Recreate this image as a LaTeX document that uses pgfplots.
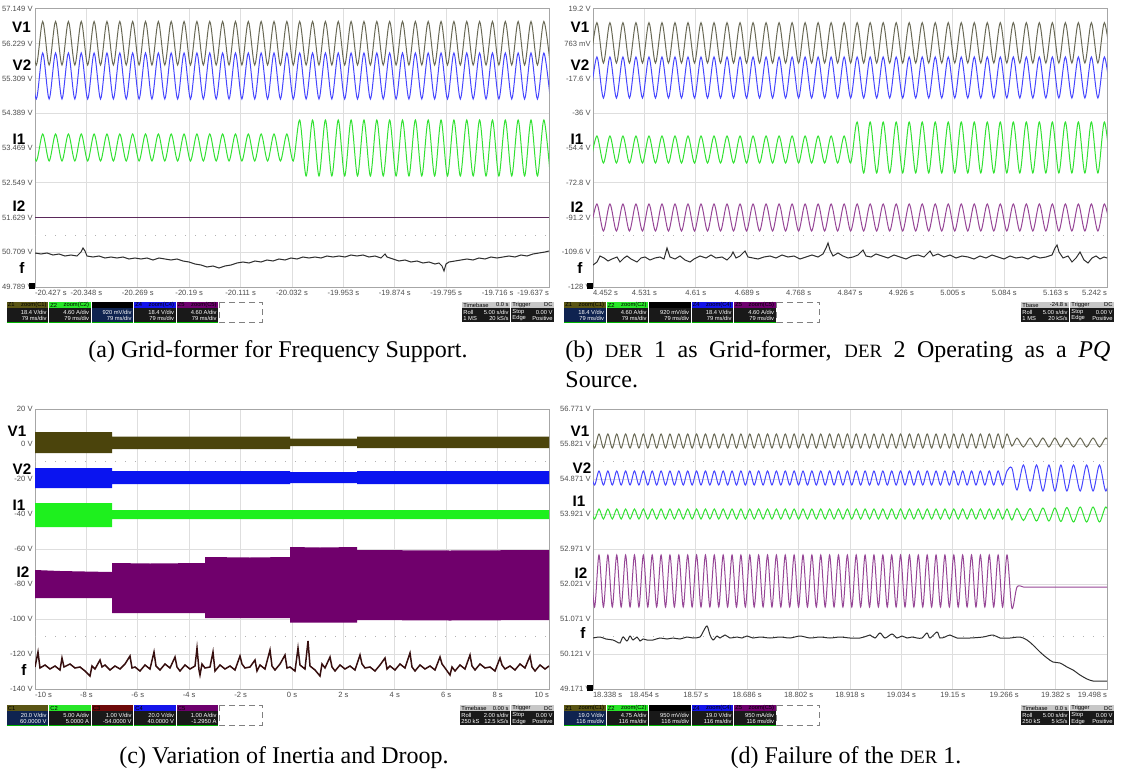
\documentclass[border=0pt]{standalone}
\usepackage{pgfplots}
\pgfplotsset{compat=1.18}
\usepackage{pgfplotstable}
\usepackage{fontspec}
\setmainfont{Liberation Serif}
\newfontfamily\arial{Liberation Sans}
\definecolor{cV1}{RGB}{105,105,85}
\definecolor{cV2}{RGB}{70,70,255}
\definecolor{cI1}{RGB}{50,225,50}
\definecolor{cI2}{RGB}{150,70,150}
\definecolor{cI2a}{RGB}{90,40,90}
\definecolor{cF}{RGB}{45,45,45}
\definecolor{bV1}{RGB}{75,68,12}
\definecolor{bV2}{RGB}{10,20,240}
\definecolor{bI1}{RGB}{30,240,30}
\definecolor{bI2}{RGB}{112,0,108}
\definecolor{bF}{RGB}{55,15,15}
\definecolor{hZ1}{RGB}{90,85,20}
\definecolor{hZ2}{RGB}{40,230,40}
\definecolor{hZ3}{RGB}{110,10,10}
\definecolor{hZ4}{RGB}{20,20,235}
\definecolor{hZ5}{RGB}{110,0,110}
\definecolor{bodyK}{RGB}{25,25,25}
\definecolor{bodyB}{RGB}{15,35,80}
\newcommand{\tickfont}{\arial\fontsize{3.8}{4}\selectfont}
\newcommand{\smc}[1]{{\fontsize{9.4}{10}\selectfont #1}}

\pgfplotsset{
  gridax/.style={scale only axis, width=257pt, y dir=reverse,
    axis line style={draw=black!35, line width=0.5pt},
    grid=major, major grid style={draw=black!13, line width=0.5pt},
    major tick length=0pt,
    tick label style={font=\tickfont, text=black!70},
    yticklabel style={inner sep=1pt},
    xticklabel style={inner sep=1.6pt},
    clip=true},
  overax/.style={scale only axis, width=257pt, y dir=reverse, hide axis, clip=true},
  tr/.style={line width=0.5pt, smooth},
}

\pgfplotstableread{
x v1 v2 i1
-1 21.5 53 134
0 65 99 161
1 21.5 53 134
2 65 99 161
3 21.5 53 134
4 65 99 161
5 21.5 53 134
6 65 99 161
7 21.5 53 134
8 65 99 161
9 21.5 53 134
10 65 99 161
11 21.5 53 134
12 65 99 161
13 21.5 53 134
14 65 99 161
15 21.5 53 134
16 65 99 161
17 21.5 53 134
18 65 99 161
19 21.5 53 134
20 65 99 161
21 21.5 53 134
22 65 99 161
23 21.5 53 134
24 65 99 161
25 21.5 53 134
26 65 99 161
27 21.5 53 134
28 65 99 161
29 21.5 53 134
30 65 99 161
31 21.5 53 134
32 65 99 161
33 21.5 53 134
34 65 99 161
35 21.5 53 134
36 65 99 161
37 21.5 53 134
38 65 99 161
39 21.5 53 134
40 65 99 161
41 21.5 53 120
42 65 99 176
43 21.5 53 120
44 65 99 176
45 21.5 53 120
46 65 99 176
47 21.5 53 120
48 65 99 176
49 21.5 53 120
50 65 99 176
51 21.5 53 120
52 65 99 176
53 21.5 53 120
54 65 99 176
55 21.5 53 120
56 65 99 176
57 21.5 53 120
58 65 99 176
59 21.5 53 120
60 65 99 176
61 21.5 53 120
62 65 99 176
63 21.5 53 120
64 65 99 176
65 21.5 53 120
66 65 99 176
67 21.5 53 120
68 65 99 176
69 21.5 53 120
70 65 99 176
71 21.5 53 120
72 65 99 176
73 21.5 53 120
74 65 99 176
75 21.5 53 120
76 65 99 176
77 21.5 53 120
78 65 99 176
79 21.5 53 120
80 65 99 176
}\tabA

\pgfplotstableread{
x v1 v2 i1 i2
0 63 98 163 231
1 22.7 57 136 204
2 63 98 163 231
3 22.7 57 136 204
4 63 98 163 231
5 22.7 57 136 204
6 63 98 163 231
7 22.7 57 136 204
8 63 98 163 231
9 22.7 57 136 204
10 63 98 163 231
11 22.7 57 136 204
12 63 98 163 231
13 22.7 57 136 204
14 63 98 163 231
15 22.7 57 136 204
16 63 98 163 231
17 22.7 57 136 204
18 63 98 163 231
19 22.7 57 136 204
20 63 98 163 231
21 22.7 57 136 204
22 63 98 163 231
23 22.7 57 136 204
24 63 98 163 231
25 22.7 57 136 204
26 63 98 163 231
27 22.7 57 136 204
28 63 98 163 231
29 22.7 57 136 204
30 63 98 163 231
31 22.7 57 136 204
32 63 98 163 231
33 22.7 57 136 204
34 63 98 163 231
35 22.7 57 136 204
36 63 98 163 231
37 22.7 57 136 204
38 63 98 163 231
39 22.7 57 136 204
40 63 98 163 231
41 22.7 57 122 204
42 63 98 173 231
43 22.7 57 122 204
44 63 98 173 231
45 22.7 57 122 204
46 63 98 173 231
47 22.7 57 122 204
48 63 98 173 231
49 22.7 57 122 204
50 63 98 173 231
51 22.7 57 122 204
52 63 98 173 231
53 22.7 57 122 204
54 63 98 173 231
55 22.7 57 122 204
56 63 98 173 231
57 22.7 57 122 204
58 63 98 173 231
59 22.7 57 122 204
60 63 98 173 231
61 22.7 57 122 204
62 63 98 173 231
63 22.7 57 122 204
64 63 98 173 231
65 22.7 57 122 204
66 63 98 173 231
67 22.7 57 122 204
68 63 98 173 231
69 22.7 57 122 204
70 63 98 173 231
71 22.7 57 122 204
72 63 98 173 231
73 22.7 57 122 204
74 63 98 173 231
75 22.7 57 122 204
76 63 98 173 231
77 22.7 57 122 204
78 63 98 173 231
79 22.7 57 122 204
80 63 98 173 231
}\tabB

\pgfplotstableread{
x v1 v2 i1 i2
-1 434 471 509 555
0 448 485 519 607
1 434 471 509 555
2 448 485 519 607
3 434 471 509 555
4 448 485 519 607
5 434 471 509 555
6 448 485 519 607
7 434 471 509 555
8 448 485 519 607
9 434 471 509 555
10 448 485 519 607
11 434 471 509 555
12 448 485 519 607
13 434 471 509 555
14 448 485 519 607
15 434 471 509 555
16 448 485 519 607
17 434 471 509 555
18 448 485 519 607
19 434 471 509 555
20 448 485 519 607
21 434 471 509 555
22 448 485 519 607
23 434 471 509 555
24 448 485 519 607
25 434 471 509 555
26 448 485 519 607
27 434 471 509 555
28 448 485 519 607
29 434 471 509 555
30 448 485 519 607
31 434 471 509 555
32 448 485 519 607
33 434 471 509 555
34 448 485 519 607
35 434 471 509 555
36 448 485 519 607
37 434 471 509 555
38 448 485 519 607
39 434 471 509 555
40 448 485 519 607
41 434 471 509 555
42 448 485 519 607
43 434 471 509 555
44 448 485 519 607
45 434 471 509 555
46 448 485 519 607
47 434 471 509 555
48 448 485 519 607
49 434 471 509 555
50 448 485 519 607
51 434 471 509 555
52 448 485 519 607
53 434 471 509 555
54 448 485 519 607
55 434 471 509 555
56 448 485 519 607
57 434 471 509 555
58 448 485 519 607
59 434 471 509 555
60 448 485 519 607
61 434 471 509 555
62 448 485 519 607
63 434 471 509 555
64 448 485 519 607
65 434 471 509 555
66 448 485 519 607
67 434 471 509 555
68 448 485 519 607
69 434 471 509 555
70 448 485 519 607
71 434 471 509 555
72 448 485 519 607
73 434 471 509 555
74 448 485 519 607
75 434 471 509 555
76 448 485 519 607
77 434 471 509 555
78 448 485 519 607
79 434 471 509 555
80 448 485 519 607
81 434 471 509 555
82 448 485 519 607
83 434 471 509 555
84 448 485 519 607
85 434 471 509 555
86 448 485 519 607
87 434 471 509 555
88 448 485 519 607
89 434 471 509 555
90 448 485 519 607
91 434 471 509 555
92 448 485 519 607
93 434 471 509 555
94.1 446 468 520 608
95.25 438 490 508.5 587
96.7 447 465 520.5 587
98.2 438 491 508.5 587
99.65 447 465 521 587
101.1 438 491 508 587
102.45 447 465 521 587
103.8 438 491 508 587
105.15 447 465 521.5 587
106.5 438 491 507.5 587
108 447 465 522 587
109.5 438 491 507 587
110.95 447 465 522 587
112.4 438 491 507 587
113.85 447 465 522 587
115.3 438 491 507 587
116.8 447 465 522 587
}\tabD

\newcommand{\sbh}{20}
\newcommand{\shh}{6}
\tikzset{sbt/.style={inner sep=0pt, font=\arial\fontsize{2.9}{3.1}\selectfont}}
% channel box: x y hdrcolor hdrL hdrR bodycolor line1 line2
\newcommand{\chbox}[8]{%
  \fill[#6] (#1,#2) rectangle ({#1+41.5},{#2+\sbh});
  \fill[#3] (#1,#2) rectangle ({#1+41.5},{#2+\shh});
  \draw[green!70!black, line width=0.4pt] (#1,{#2+\sbh}) -- ({#1+41.5},{#2+\sbh});
  \node[sbt, anchor=west, text=black] at ({#1+1},{#2+\shh/2}) {#4};
  \node[sbt, anchor=east, text=black] at ({#1+40.5},{#2+\shh/2}) {#5};
  \node[sbt, anchor=east, text=white] at ({#1+40.5},{#2+\shh+(\sbh-\shh)*0.3}) {#7};
  \node[sbt, anchor=east, text=white] at ({#1+40.5},{#2+\shh+(\sbh-\shh)*0.75}) {#8};
}
% right box: x y w hdrL hdrR l1L l1R l2L l2R
\newcommand{\rbox}[9]{%
  \fill[bodyK] (#1,#2) rectangle ({#1+#3},{#2+\sbh});
  \fill[black!22] (#1,#2) rectangle ({#1+#3},{#2+\shh});
  \node[sbt, anchor=west, text=black] at ({#1+1},{#2+\shh/2}) {#4};
  \node[sbt, anchor=east, text=black] at ({#1+#3-1},{#2+\shh/2}) {#5};
  \node[sbt, anchor=west, text=white] at ({#1+1},{#2+\shh+(\sbh-\shh)*0.3}) {#6};
  \node[sbt, anchor=east, text=white] at ({#1+#3-1},{#2+\shh+(\sbh-\shh)*0.3}) {#7};
  \node[sbt, anchor=west, text=white] at ({#1+1},{#2+\shh+(\sbh-\shh)*0.75}) {#8};
  \node[sbt, anchor=east, text=white] at ({#1+#3-1},{#2+\shh+(\sbh-\shh)*0.75}) {#9};
}
\tikzset{chl/.style={font=\arial\bfseries\fontsize{7.6}{8}\selectfont, inner sep=0pt}}

\begin{document}
\begin{tikzpicture}
\path[use as bounding box] (0,0) rectangle (561pt,-387pt);

% ---------------- (a) ----------------
\begin{axis}[gridax, at={(17.5pt,-4.5pt)}, anchor=north west, height=139pt,
  xmin=35, xmax=549, ymin=9, ymax=287,
  xtick={35,86.4,137.8,189.2,240.6,292,343.4,394.8,446.2,497.6,549},
  xticklabels={\makebox[0pt][l]{-20.427 s},-20.348 s,-20.269 s,-20.19 s,-20.111 s,-20.032 s,-19.953 s,-19.874 s,-19.795 s,-19.716 s,\makebox[0pt][r]{-19.637 s}},
  ytick={9,43.75,78.5,113.25,148,182.75,217.5,252.25,287},
  yticklabels={57.149 V,56.229 V,55.309 V,54.389 V,53.469 V,52.549 V,51.629 V,50.709 V,49.789 V}]
\draw[black!30, dash pattern=on 0.5pt off 4.5pt] (axis cs:35,234.9) -- (axis cs:549,234.9);
\addplot[cI2a, line width=0.6pt] coordinates {(35,217.5) (549,217.5)};
\addplot[cF, line width=0.5pt] coordinates {
(35,253) (41,254) (47,253) (53,255) (59,254) (65,256) (71,255) (77,256) (81,252) (83,248) (85,251) (87,256)
(93,257) (99,256) (105,258) (111,257) (117,258) (123,257) (129,259) (135,258) (141,259) (147,258) (153,260)
(159,258) (165,259) (171,260) (177,259) (183,261) (189,262) (195,264) (201,265) (207,267) (213,266) (219,268)
(225,266) (231,265) (237,263) (243,262) (249,263) (255,261) (261,262) (267,260) (273,261) (279,259) (285,260)
(291,258) (297,259) (303,257) (309,258) (315,257) (321,258) (327,256) (333,257) (339,256) (345,257) (351,255)
(357,256) (363,255) (369,257) (375,256) (381,258) (385,254) (387,257) (393,259) (399,261) (405,260) (411,262)
(417,261) (423,263) (429,262) (435,264) (439,263) (442,266) (444,271) (446,264) (449,262) (455,261) (461,260)
(467,259) (473,260) (479,258) (485,259) (491,257) (497,258) (503,257) (509,256) (515,257) (521,255) (527,256)
(533,254) (539,253) (545,252) (549,251)};
\end{axis}
\begin{axis}[overax, at={(17.5pt,-4.5pt)}, anchor=north west, height=139pt,
  xmin=-0.2, xmax=79.8, ymin=9, ymax=287]
\addplot[tr, cV1] table[x=x, y=v1] {\tabA};
\addplot[tr, cV2] table[x=x, y=v2] {\tabA};
\addplot[tr, cI1] table[x=x, y=i1] {\tabA};
\end{axis}

% ---------------- (b) ----------------
\begin{axis}[gridax, at={(296.5pt,-4.5pt)}, anchor=north west, height=139pt,
  xmin=593, xmax=1107, ymin=9, ymax=287,
  xtick={593,644.4,695.8,747.2,798.6,850,901.4,952.8,1004.2,1055.6,1107},
  xticklabels={\makebox[0pt][l]{4.452 s},4.531 s,4.61 s,4.689 s,4.768 s,4.847 s,4.926 s,5.005 s,5.084 s,5.163 s,\makebox[0pt][r]{5.242 s}},
  ytick={9,43.75,78.5,113.25,148,182.75,217.5,252.25,287},
  yticklabels={19.2 V,763 mV,-17.6 V,-36 V,-54.4 V,-72.8 V,-91.2 V,-109.6 V,-128 V}]
\draw[black!30, dash pattern=on 0.5pt off 4.5pt] (axis cs:593,234.9) -- (axis cs:1107,234.9);
\addplot[cF, line width=0.5pt] coordinates {
(593,265) (597,262) (600,256) (604,258) (608,261) (612,259) (617,257) (620,262) (624,258) (627,256) (631,259)
(637,262) (641,258) (645,257) (650,260) (655,258) (660,257) (664,259) (667,248) (670,257) (675,259) (680,256)
(685,260) (690,262) (694,259) (700,256) (706,258) (711,255) (716,258) (722,257) (727,260) (731,256) (733,252)
(736,258) (740,256) (745,251) (748,257) (753,258) (758,259) (764,257) (770,256) (776,258) (782,255) (788,257)
(794,256) (800,259) (806,257) (812,255) (818,257) (823,254) (826,248) (828,243) (830,250) (833,256) (838,253)
(843,256) (848,258) (853,257) (858,255) (863,250) (866,256) (871,257) (876,254) (882,256) (888,258) (894,255)
(900,257) (906,259) (912,256) (918,255) (924,257) (930,251) (933,256) (938,254) (944,257) (950,255) (956,258)
(962,256) (968,257) (974,259) (980,256) (986,258) (992,255) (998,257) (1004,259) (1010,256) (1016,258)
(1022,257) (1028,259) (1034,256) (1040,258) (1046,257) (1052,255) (1055,248) (1057,245) (1059,252) (1063,258)
(1068,256) (1072,262) (1076,258) (1080,252) (1084,260) (1088,263) (1092,258) (1096,256) (1100,259) (1104,257) (1107,258)};
\end{axis}
\begin{axis}[overax, at={(296.5pt,-4.5pt)}, anchor=north west, height=139pt,
  xmin=0.4, xmax=79.4, ymin=9, ymax=287]
\addplot[tr, cV1] table[x=x, y=v1] {\tabB};
\addplot[tr, cV2] table[x=x, y=v2] {\tabB};
\addplot[tr, cI1] table[x=x, y=i1] {\tabB};
\addplot[tr, cI2] table[x=x, y=i2] {\tabB};
\end{axis}

% ---------------- (c) ----------------
\begin{axis}[gridax, at={(17.5pt,-204.5pt)}, anchor=north west, height=140pt,
  xmin=35, xmax=549, ymin=409, ymax=689,
  xtick={35,86.4,137.8,189.2,240.6,292,343.4,394.8,446.2,497.6,549},
  xticklabels={\makebox[0pt][l]{-10 s},-8 s,-6 s,-4 s,-2 s,0 s,2 s,4 s,6 s,8 s,\makebox[0pt][r]{10 s}},
  ytick={409,444,479,514,549,584,619,654,689},
  yticklabels={20 V,0 V,-20 V,-40 V,-60 V,-80 V,-100 V,-120 V,-140 V}]
\draw[black!30, dash pattern=on 0.5pt off 4.5pt] (axis cs:35,461.5) -- (axis cs:549,461.5);
\draw[black!30, dash pattern=on 0.5pt off 4.5pt] (axis cs:35,636.5) -- (axis cs:549,636.5);
\addplot[fill=bV1, draw=none] coordinates {(35,432) (112,432) (112,436.5) (290,436.5) (290,438.5) (357,438.5) (357,436.5) (549,436.5)
 (549,448) (357,448) (357,446) (290,446) (290,449) (112,449) (112,453) (35,453)} -- cycle;
\addplot[fill=bV2, draw=none] coordinates {(35,468) (112,468) (112,471) (290,471) (290,472) (357,472) (357,471) (549,471)
 (549,484) (357,484) (357,483) (290,483) (290,484) (112,484) (112,488) (35,488)} -- cycle;
\addplot[fill=bI1, draw=none] coordinates {(35,503) (112,503) (112,510) (549,510) (549,519) (112,519) (112,527) (35,527)} -- cycle;
\addplot[fill=bI2, draw=none] coordinates {(35,570) (60,571) (85,571.5) (112,572) (112,563) (150,563.5) (205,563) (205,557) (250,557.5)
 (290,557) (290,547) (320,547.5) (357,547) (357,550) (450,550.5) (549,550)
 (549,620) (450,620.5) (357,620) (357,622.5) (290,622.5) (290,618) (205,618) (205,613) (112,613) (112,598) (35,598)} -- cycle;
\addplot[bF, line width=0.75pt] coordinates {
(35,667) (38,652) (40,668) (45,665) (50,669) (55,666) (60,670) (62,658) (64,667) (70,664) (75,668) (80,667)
(85,671) (90,676) (92,666) (95,669) (100,660) (102,667) (105,665) (110,670) (115,666) (120,669) (125,664)
(130,656) (132,668) (135,667) (140,671) (145,665) (150,669) (154,652) (156,666) (160,670) (165,664) (170,668)
(175,657) (177,667) (180,671) (185,665) (190,669) (195,666) (197,648) (199,670) (200,675) (202,664) (205,668)
(210,667) (213,652) (215,671) (220,665) (225,669) (230,666) (235,670) (240,656) (242,664) (245,668) (250,667)
(255,660) (257,671) (260,665) (265,669) (270,650) (272,666) (275,670) (280,664) (285,655) (287,668) (290,667)
(295,671) (298,648) (300,665) (305,669) (308,641) (310,666) (315,670) (320,676) (322,664) (325,668) (330,657)
(332,667) (335,671) (340,665) (345,669) (350,666) (355,670) (360,655) (362,664) (365,668) (370,667) (375,671)
(380,665) (385,658) (387,669) (390,666) (395,670) (400,664) (405,668) (410,653) (412,667) (415,671) (420,665)
(425,669) (430,666) (435,670) (440,657) (442,664) (445,668) (450,675) (452,667) (455,671) (460,665) (465,669)
(470,655) (472,666) (475,670) (480,664) (485,668) (490,667) (495,671) (500,658) (502,665) (505,669) (510,666)
(515,670) (520,664) (525,668) (530,656) (532,667) (535,671) (540,665) (545,669) (549,666)};
\end{axis}

% ---------------- (d) ----------------
\begin{axis}[gridax, at={(296.5pt,-204.5pt)}, anchor=north west, height=140pt,
  xmin=593, xmax=1107, ymin=409, ymax=689,
  xtick={593,644.4,695.8,747.2,798.6,850,901.4,952.8,1004.2,1055.6,1107},
  xticklabels={\makebox[0pt][l]{18.338 s},18.454 s,18.57 s,18.686 s,18.802 s,18.918 s,19.034 s,19.15 s,19.266 s,19.382 s,\makebox[0pt][r]{19.498 s}},
  ytick={409,444,479,514,549,584,619,654,689},
  yticklabels={56.771 V,55.821 V,54.871 V,53.921 V,52.971 V,52.021 V,51.071 V,50.121 V,49.171 V}]
\draw[black!30, dash pattern=on 0.5pt off 4.5pt] (axis cs:593,461.5) -- (axis cs:1107,461.5);
\draw[black!30, dash pattern=on 0.5pt off 4.5pt] (axis cs:593,636.5) -- (axis cs:1107,636.5);
\addplot[cF, line width=0.5pt, smooth] coordinates {
(593,638) (600,637) (606,639) (613,640) (617,642) (620,643) (623,637) (627,641) (630,636) (633,640) (637,637)
(640,641) (643,639) (647,640) (653,640) (660,638) (667,639) (673,638) (680,639) (687,637) (693,638) (700,637)
(703,632) (707,626) (710,635) (713,640) (717,636) (720,638) (725,635) (730,638) (737,637) (742,638) (747,636)
(753,638) (760,637) (770,638) (780,637) (790,638) (800,636) (810,638) (820,637) (830,638) (840,637) (850,638)
(860,638) (867,636) (870,635) (875,638) (880,633) (885,638) (892,634) (897,638) (902,636) (907,638) (912,637)
(917,638) (922,638) (927,633) (930,638) (937,632) (940,638) (945,637) (950,635) (957,638) (970,638) (983,637)
(993,635) (1000,638) (1010,638) (1020,637) (1027,640) (1033,645) (1040,652) (1047,658) (1053,662) (1060,663)
(1067,667) (1073,670) (1080,675) (1087,679) (1093,681) (1100,681) (1107,681)};
\end{axis}
\begin{axis}[overax, at={(296.5pt,-204.5pt)}, anchor=north west, height=140pt,
  xmin=-0.35, xmax=115.55, ymin=409, ymax=689]
\addplot[tr, cV1] table[x=x, y=v1] {\tabD};
\addplot[tr, cV2] table[x=x, y=v2] {\tabD};
\addplot[tr, cI1] table[x=x, y=i1] {\tabD};
\addplot[tr, cI2] table[x=x, y=i2] {\tabD};
\end{axis}

\begin{scope}[x=0.5pt,y=-0.5pt]
% channel labels
\node[chl] at (21.5,27.5) {V1};
\node[chl] at (22,65) {V2};
\node[chl] at (19,139) {I1};
\node[chl] at (19,206) {I2};
\node[chl] at (22,268) {f};
\node[chl] at (580,27.5) {V1};
\node[chl] at (580,65) {V2};
\node[chl] at (577,139) {I1};
\node[chl] at (577,207) {I2};
\node[chl] at (580,268) {f};
\node[chl] at (17,431.5) {V1};
\node[chl] at (22,469) {V2};
\node[chl] at (19,505) {I1};
\node[chl] at (23,572) {I2};
\node[chl] at (24,670) {f};
\node[chl] at (580,431) {V1};
\node[chl] at (582,468) {V2};
\node[chl] at (579,501) {I1};
\node[chl] at (581,573) {I2};
\node[chl] at (583,633) {f};
% ground markers
\fill[black] (29,283) rectangle (35,289);
\fill[black] (587,283) rectangle (593,289);
\fill[black] (587,685) rectangle (593,691);

% status bars (a)
\chbox{6.5}{302}{hZ1}{Z1}{zoom(C1)}{bodyK}{18.4 V/div}{79 ms/div}
\chbox{49}{302}{hZ2}{Z2}{zoom(C2)}{bodyK}{4.60 A/div}{79 ms/div}
\chbox{91.5}{302}{black}{}{}{bodyB}{920 mV/div}{79 ms/div}
\chbox{134}{302}{hZ4}{Z4}{zoom(C4)}{bodyK}{18.4 V/div}{79 ms/div}
\chbox{176.5}{302}{hZ5}{Z5}{zoom(C5)}{bodyK}{4.60 A/div}{79 ms/div}
\draw[black!50, densely dashed, line width=0.3pt] (219,302) rectangle (262,322);
\rbox{462}{302}{48}{Timebase}{0.0 s}{Roll}{5.00 s/div}{1 MS}{20 kS/s}
\rbox{511}{302}{43}{Trigger}{DC}{Stop}{0.00 V}{Edge}{Positive}
% status bars (b)
\chbox{564}{302}{hZ1}{Z1}{zoom(C1)}{bodyB}{18.4 V/div}{79 ms/div}
\chbox{606.5}{302}{hZ2}{Z2}{zoom(C2)}{bodyK}{4.60 A/div}{79 ms/div}
\chbox{649}{302}{black}{}{}{bodyK}{920 mV/div}{79 ms/div}
\chbox{691.5}{302}{hZ4}{Z4}{zoom(C4)}{bodyK}{18.4 V/div}{79 ms/div}
\chbox{734}{302}{hZ5}{Z5}{zoom(C5)}{bodyK}{4.60 A/div}{79 ms/div}
\draw[black!50, densely dashed, line width=0.3pt] (776.5,302) rectangle (819.5,322);
\rbox{1021}{302}{48}{Tbase}{-24.8 s}{Roll}{5.00 s/div}{1 MS}{20 kS/s}
\rbox{1070}{302}{44}{Trigger}{DC}{Stop}{0.00 V}{Edge}{Positive}
% status bars (c)
\chbox{6.5}{705}{hZ1}{C1}{}{bodyB}{20.0 V/div}{60.0000 V}
\chbox{49}{705}{hZ2}{C2}{}{bodyK}{5.00 A/div}{5.0000 A}
\chbox{91.5}{705}{hZ3}{C3}{}{bodyK}{1.00 V/div}{-54.0000 V}
\chbox{134}{705}{hZ4}{C4}{}{bodyK}{20.0 V/div}{40.0000 V}
\chbox{176.5}{705}{hZ5}{C5}{}{bodyK}{1.00 A/div}{-1.2950 A}
\draw[black!50, densely dashed, line width=0.3pt] (219,705) rectangle (262,725);
\rbox{460}{705}{50}{Timebase}{0.00 s}{Roll}{2.00 s/div}{250 kS}{12.5 kS/s}
\rbox{511}{705}{43}{Trigger}{DC}{Stop}{0.00 V}{Edge}{Positive}
% status bars (d)
\chbox{564}{705}{hZ1}{Z1}{zoom(C1)}{bodyB}{19.0 V/div}{116 ms/div}
\chbox{606.5}{705}{hZ2}{Z2}{zoom(C2)}{bodyK}{4.75 A/div}{116 ms/div}
\chbox{649}{705}{black}{}{}{bodyK}{950 mV/div}{116 ms/div}
\chbox{691.5}{705}{hZ4}{Z4}{zoom(C4)}{bodyK}{19.0 V/div}{116 ms/div}
\chbox{734}{705}{hZ5}{Z5}{zoom(C5)}{bodyK}{950 mA/div}{116 ms/div}
\draw[black!50, densely dashed, line width=0.3pt] (776.5,705) rectangle (819.5,725);
\rbox{1021}{705}{48}{Timebase}{0.0 s}{Roll}{5.00 s/div}{250 kS}{5 kS/s}
\rbox{1070}{705}{44}{Trigger}{DC}{Stop}{0.00 V}{Edge}{Positive}

% captions
\node[font=\fontsize{12}{14}\selectfont, inner sep=0pt] at (278,352) {(a) Grid-former for Frequency Support.};
\node[font=\fontsize{12}{14}\selectfont, inner sep=0pt, anchor=west] at (565,352) {\makebox[272.5pt][s]{(b) \smc{DER} 1 as Grid-former, \smc{DER} 2 Operating as a \textit{PQ}}};
\node[font=\fontsize{12}{14}\selectfont, inner sep=0pt, anchor=west] at (565,380) {Source.};
\node[font=\fontsize{12}{14}\selectfont, inner sep=0pt] at (284,758) {(c) Variation of Inertia and Droop.};
\node[font=\fontsize{12}{14}\selectfont, inner sep=0pt] at (846,758) {(d) Failure of the \smc{DER} 1.};
\end{scope}
\end{tikzpicture}
\end{document}
